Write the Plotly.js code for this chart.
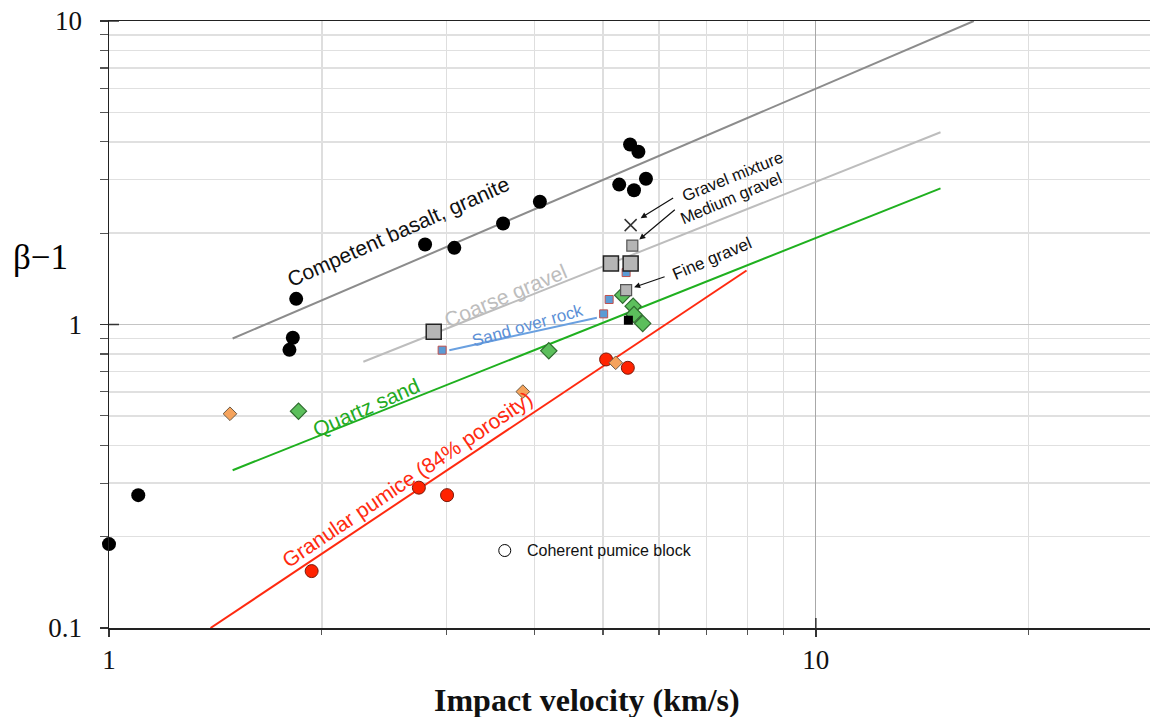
<!DOCTYPE html>
<html><head><meta charset="utf-8">
<script src="https://cdn.plot.ly/plotly-3.0.1.min.js"></script>
<style>html,body{margin:0;padding:0;background:#fff}</style>
</head><body><div id="chart" style="width:1150px;height:717px"></div>
<script>
// ---- data (impact velocity km/s, beta-1) ----
var basaltX = [1.0, 1.10, 1.84, 1.82, 1.80, 2.80, 3.08, 3.61, 4.07, 5.46, 5.61, 5.27, 5.53, 5.75];
var basaltY = [0.189, 0.274, 1.215, 0.904, 0.825, 1.835, 1.789, 2.152, 2.537, 3.92, 3.71, 2.89, 2.77, 3.02];
var coarseGravelX = [2.88, 5.13, 5.47];
var coarseGravelY = [0.946, 1.589, 1.589];
var mediumGravelX = [5.50];
var mediumGravelY = [1.82];
var fineGravelX = [5.39];
var fineGravelY = [1.297];
var gravelMixX = [5.47];
var gravelMixY = [2.125];
var sandRockX = [2.96, 5.01, 5.10, 5.39];
var sandRockY = [0.823, 1.084, 1.209, 1.483];
var blackSqX = [5.43];
var blackSqY = [1.033];
var quartzX = [1.854, 4.19, 5.33, 5.515, 5.53, 5.69];
var quartzY = [0.518, 0.819, 1.249, 1.149, 1.079, 1.008];
var orangeX = [1.483, 3.85, 5.21];
var orangeY = [0.508, 0.601, 0.748];
var pumiceX = [1.935, 2.744, 3.008, 5.05, 5.42];
var pumiceY = [0.154, 0.290, 0.274, 0.767, 0.720];
var cohPumiceX = [3.63];
var cohPumiceY = [0.180];

// fitted trend lines
var basaltFitX = [1.496, 16.73];  var basaltFitY = [0.899, 10.0];
var coarseFitX = [2.29, 15.01];   var coarseFitY = [0.754, 4.30];
var quartzFitX = [1.496, 15.01];  var quartzFitY = [0.331, 2.81];
var pumiceFitX = [1.392, 7.98];   var pumiceFitY = [0.100, 1.506];
var sandRockFitX = [3.03, 4.90];  var sandRockFitY = [0.823, 1.052];

// axis ticks
var xMajor = [1, 10];            var xMajorText = ['1', '10'];
var xMinor = [2, 3, 4, 5, 6, 7, 8, 9, 20];
var yMajor = [0.1, 1, 10];       var yMajorText = ['0.1', '1', '10'];
var yMinor = [0.2, 0.3, 0.4, 0.5, 0.6, 0.7, 0.8, 0.9, 2, 3, 4, 5, 6, 7, 8, 9];

// labels
var labelText  = ['Competent basalt, granite', 'Coarse gravel', 'Sand over rock', 'Quartz sand', 'Granular pumice (84% porosity)', 'Gravel mixture', 'Medium gravel', 'Fine gravel'];
var labelX     = [2.564, 3.642, 3.914, 2.309, 2.639, 7.63, 7.58, 7.14];
var labelY     = [2.025, 1.246, 0.996, 0.5326, 0.3085, 3.074, 2.602, 1.650];

var SANS = '"Liberation Sans", Arial, sans-serif';
var SERIF = '"Liberation Serif", "Times New Roman", serif';
var labelAngle = [-24, -23, -16, -24, -34, -22, -23, -23];
var labelColor = ['#111', '#bdbdbd', '#5b8fd6', '#22aa22', '#ff2a10', '#111', '#111', '#111'];
var labelSize  = [21, 21, 17, 21, 21, 16.5, 16.5, 17];

function line(x, y, color) {
  return {x: x, y: y, type: 'scatter', mode: 'lines', line: {color: color, width: 2}, hoverinfo: 'skip'};
}
function pts(x, y, marker, extra) {
  var t = {x: x, y: y, type: 'scatter', mode: 'markers', marker: marker, hoverinfo: 'x+y'};
  if (extra) for (var k in extra) t[k] = extra[k];
  return t;
}

var traces = [
  line(basaltFitX, basaltFitY, '#8c8c8c'),
  line(coarseFitX, coarseFitY, '#bdbdbd'),
  line(quartzFitX, quartzFitY, '#1fb01f'),
  line(pumiceFitX, pumiceFitY, '#ff2a10'),
  line(sandRockFitX, sandRockFitY, '#6aa0e0'),
  pts(basaltX, basaltY, {symbol: 'circle', size: 14, color: '#000'}, {cliponaxis: false}),
  pts(pumiceX, pumiceY, {symbol: 'circle', size: 13, color: '#ff2200', line: {color: '#7a1a0a', width: 1}}),
  pts(orangeX, orangeY, {symbol: 'diamond', size: 10.5, color: '#f5a35c', line: {color: '#6b5a45', width: 1}}),
  pts(quartzX, quartzY, {symbol: 'diamond', size: 12.5, color: '#5cbf5c', line: {color: '#2e6b2e', width: 1.2}}),
  pts(sandRockX, sandRockY, {symbol: 'square', size: 8, color: '#5b9bd5', line: {color: '#c0504d', width: 1}}),
  pts(blackSqX, blackSqY, {symbol: 'square', size: 9, color: '#000'}),
  pts(coarseGravelX, coarseGravelY, {symbol: 'square', size: 15, color: '#b5b5b5', line: {color: '#222', width: 1.5}}),
  pts(mediumGravelX, mediumGravelY, {symbol: 'square', size: 11, color: '#b5b5b5', line: {color: '#555', width: 1.2}}),
  pts(fineGravelX, fineGravelY, {symbol: 'square', size: 11, color: '#b5b5b5', line: {color: '#555', width: 1.2}}),
  pts(gravelMixX, gravelMixY, {symbol: 'x-thin', size: 12, color: '#333', line: {color: '#333', width: 1.5}}),
  pts(cohPumiceX, cohPumiceY, {symbol: 'circle', size: 12, color: '#fff', line: {color: '#000', width: 1}})
];

var lg = Math.log10;
var annotations = [];
for (var i = 0; i < labelText.length; i++) {
  annotations.push({x: lg(labelX[i]), y: lg(labelY[i]), xref: 'x', yref: 'y', text: labelText[i],
    showarrow: false, textangle: labelAngle[i], font: {family: SANS, size: labelSize[i], color: labelColor[i]}});
}
annotations.push({x: lg(cohPumiceX[0]), y: lg(cohPumiceY[0]), xref: 'x', yref: 'y', xanchor: 'left', xshift: 20,
  text: 'Coherent pumice block', showarrow: false, font: {family: SANS, size: 16, color: '#111'}});
// arrows pointing to gravel points
var arrowTargetsX = [gravelMixX[0], mediumGravelX[0], fineGravelX[0]];
var arrowTargetsY = [gravelMixY[0], mediumGravelY[0], fineGravelY[0]];
var arrowAx = [34, 37, 32], arrowAy = [-21, -31, -11], arrowShiftX = [10, 7, 8], arrowShiftY = [7, 6, 3];
for (var j = 0; j < 3; j++) {
  annotations.push({x: lg(arrowTargetsX[j]), y: lg(arrowTargetsY[j]), xref: 'x', yref: 'y', text: '',
    xshift: arrowShiftX[j], yshift: arrowShiftY[j],
    showarrow: true, arrowhead: 2, arrowsize: 1, arrowwidth: 1.2, arrowcolor: '#111', ax: arrowAx[j], ay: arrowAy[j], standoff: 0});
}
// axis titles
annotations.push({xref: 'paper', yref: 'paper', x: 0.459, y: 0, yshift: -72, yanchor: 'middle', showarrow: false,
  text: '<b>Impact velocity (km/s)</b>', font: {family: SERIF, size: 32, color: '#111'}});
annotations.push({xref: 'paper', yref: 'paper', x: 0, xshift: -69, y: 0.6096, xanchor: 'center', yanchor: 'middle', showarrow: false,
  text: 'β−1', font: {family: SERIF, size: 35, color: '#000'}});

// inner part of decade ticks
var shapes = [
  {type: 'line', xref: 'x', x0: 10, x1: 10, yref: 'paper', ysizemode: 'pixel', yanchor: 0, y0: 0, y1: 10, line: {color: '#333', width: 1.5}},
  {type: 'line', yref: 'y', y0: 1, y1: 1, xref: 'paper', xsizemode: 'pixel', xanchor: 0, x0: 0, x1: 10, line: {color: '#333', width: 1.5}},
  {type: 'line', yref: 'y', y0: 10, y1: 10, xref: 'paper', xsizemode: 'pixel', xanchor: 0, x0: 0, x1: 10, line: {color: '#333', width: 1.5}}
];

var layout = {
  width: 1150, height: 717,
  margin: {l: 109, r: 0, t: 21, b: 89},
  paper_bgcolor: '#fff', plot_bgcolor: '#fff',
  showlegend: false,
  xaxis: {
    type: 'log', range: [0, lg(29.7)], automargin: false,
    tickmode: 'array', tickvals: xMajor, ticktext: xMajorText,
    ticks: 'outside', ticklen: 7, tickwidth: 1.5, tickcolor: '#333',
    showline: true, linecolor: '#222', linewidth: 1.5, mirror: true,
    showgrid: true, gridcolor: '#a8a8a8', gridwidth: 1.2, zeroline: false,
    tickfont: {family: SERIF, size: 27, color: '#111'},
    minor: {tickmode: 'array', tickvals: xMinor, ticks: 'outside', ticklen: 5, tickwidth: 1.2, tickcolor: '#555', showgrid: true, gridcolor: '#dedede', gridwidth: 1.5}
  },
  yaxis: {
    type: 'log', range: [-1, 1], automargin: false,
    tickmode: 'array', tickvals: yMajor, ticktext: yMajorText,
    ticks: 'outside', ticklen: 8, tickwidth: 1.5, tickcolor: '#333',
    showline: true, linecolor: '#222', linewidth: 1.5,
    showgrid: true, gridcolor: '#c4c4c4', gridwidth: 1.2, zeroline: false,
    tickfont: {family: SERIF, size: 27, color: '#111'}, ticklabelstandoff: 12,
    minor: {tickmode: 'array', tickvals: yMinor, ticks: 'outside', ticklen: 8, tickwidth: 1.2, tickcolor: '#555', showgrid: true, gridcolor: '#e0e0e0', gridwidth: 1.5}
  },
  annotations: annotations,
  shapes: shapes
};

Plotly.newPlot('chart', traces, layout, {displayModeBar: false, staticPlot: true});
</script></body></html>
